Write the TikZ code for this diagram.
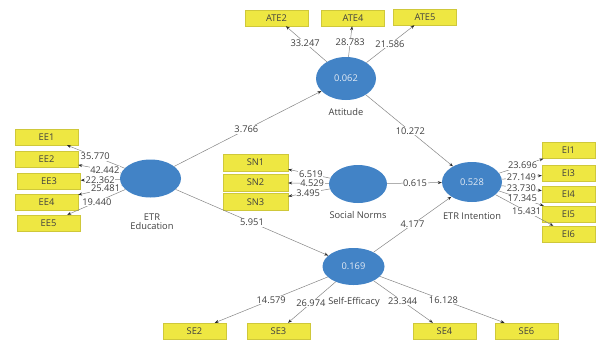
\documentclass[tikz,border=0pt]{standalone}
\usepackage{fontspec}
\setmainfont{Open Sans}
\usetikzlibrary{shapes.geometric,arrows.meta}

\definecolor{lvblue}{HTML}{4283C6}
\definecolor{lvtext}{HTML}{E2EAF4}
\definecolor{indyellow}{HTML}{EEE742}
\definecolor{indborder}{HTML}{CFC83A}
\definecolor{darktext}{HTML}{404040}
\definecolor{linegray}{HTML}{858585}
\definecolor{tipdark}{HTML}{2A2A2A}

\begin{document}
\begin{tikzpicture}[x=1pt,y=-1pt,
  txt/.style={font=\fontsize{9.3}{11}\selectfont},
  construct/.style={ellipse, fill=lvblue, draw=none, inner sep=0pt,
    text=lvtext, txt},
  indicator/.style={rectangle, fill=indyellow, draw=indborder, line width=0.4pt,
    minimum width=63pt, minimum height=16pt, inner sep=0pt, text=darktext, txt},
  caption/.style={text=darktext, txt, align=center, inner sep=0pt},
  link/.style={draw=linegray, line width=0.5pt,
    -{Stealth[length=4pt,width=3pt,color=tipdark]}},
  weight/.style={fill=white, inner sep=0.6pt, text=darktext, txt},
]
\useasboundingbox (0,0) rectangle (597,341);

% latent variables
\node[construct, minimum width=61pt, minimum height=38pt] (ee)  at (150.5,178.5) {};
\node[construct, minimum width=60pt, minimum height=43pt] (att) at (346,78.5) {0.062};
\node[construct, minimum width=58pt, minimum height=38pt] (sn)  at (358,184) {};
\node[construct, minimum width=60pt, minimum height=40pt] (ei)  at (472,182) {0.528};
\node[construct, minimum width=62pt, minimum height=37pt] (se)  at (353.5,266.5) {0.169};

% construct captions
\node[caption] (capee)  at (152,221.5) {ETR\\[-1.5pt]Education};
\node[caption] (capatt) at (346,112) {Attitude};
\node[caption] (capsn)  at (358,215) {Social Norms};
\node[caption] (capei)  at (472,216) {ETR Intention};
\node[caption] (capse)  at (354,302) {Self-Efficacy};

% indicators
\node[indicator] (EE1) at (46.5,137) {EE1};
\node[indicator] (EE2) at (46.5,159) {EE2};
\node[indicator] (EE3) at (49,181)   {EE3};
\node[indicator] (EE4) at (46.5,202) {EE4};
\node[indicator] (EE5) at (48.5,223) {EE5};

\node[indicator] (ATE2) at (276.5,18) {ATE2};
\node[indicator] (ATE4) at (353,18)   {ATE4};
\node[indicator] (ATE5) at (425,17)   {ATE5};

\node[indicator, minimum width=65pt, minimum height=17pt] (SN1) at (255.5,162.5) {SN1};
\node[indicator, minimum width=65pt, minimum height=17pt] (SN2) at (255.5,182.5) {SN2};
\node[indicator, minimum width=65pt, minimum height=17pt] (SN3) at (255.5,202)   {SN3};

\node[indicator, minimum width=53pt] (EI1) at (568.5,150.5) {EI1};
\node[indicator, minimum width=53pt] (EI3) at (568.5,173)   {EI3};
\node[indicator, minimum width=53pt] (EI4) at (568.5,194)   {EI4};
\node[indicator, minimum width=53pt] (EI5) at (568.5,214)   {EI5};
\node[indicator, minimum width=53pt] (EI6) at (568.5,234)   {EI6};

\node[indicator] (SE2) at (194.5,331) {SE2};
\node[indicator] (SE3) at (278.5,331) {SE3};
\node[indicator] (SE4) at (444.5,331) {SE4};
\node[indicator] (SE6) at (526.5,331) {SE6};

% outer loadings
\draw[link] (ee) -- node[weight, pos=0.51] {35.770} (EE1);
\draw[link] (ee) -- node[weight, pos=0.38] {42.442} (EE2);
\draw[link] (ee) -- node[weight, pos=0.50] {22.362} (EE3);
\draw[link] (ee) -- node[weight, pos=0.37] {25.481} (EE4);
\draw[link] (ee) -- node[weight, pos=0.49] {19.440} (EE5);

\draw[link] (att) -- node[weight, pos=0.53] {33.247} (ATE2);
\draw[link] (att) -- node[weight, pos=0.49] {28.783} (ATE4);
\draw[link] (att) -- node[weight, pos=0.49] {21.586} (ATE5);

\draw[link] (sn) -- node[weight, pos=0.46] {6.519} (SN1);
\draw[link] (sn) -- node[weight, pos=0.41] {4.529} (SN2);
\draw[link] (sn) -- node[weight, pos=0.52] {3.495} (SN3);

\draw[link] (ei) -- node[weight, pos=0.53] {23.696} (EI1);
\draw[link] (ei) -- node[weight, pos=0.49] {27.149} (EI3);
\draw[link] (ei) -- node[weight, pos=0.49] {23.730} (EI4);
\draw[link] (ei) -- node[weight, pos=0.52] {17.345} (EI5);
\draw[link] (ei) -- node[weight, pos=0.54] {15.431} (EI6);

\draw[link] (se) -- node[weight, pos=0.50] {14.579} (SE2);
\draw[link] (se) -- node[weight, pos=0.52] {26.974} (SE3);
\draw[link] (se) -- node[weight, pos=0.49] {23.344} (SE4);
\draw[link] (se) -- node[weight, pos=0.51] {16.128} (SE6);

% structural paths
\draw[link] (ee)  -- node[weight, pos=0.49] {3.766}  (att);
\draw[link] (ee)  -- node[weight, pos=0.50] {5.951}  (se);
\draw[link] (att) -- node[weight, pos=0.51] {10.272} (ei);
\draw[link] (sn)  -- node[weight, pos=0.51] {0.615}  (ei);
\draw[link] (se)  -- node[weight, pos=0.50] {4.177}  (ei);
\end{tikzpicture}
\end{document}
